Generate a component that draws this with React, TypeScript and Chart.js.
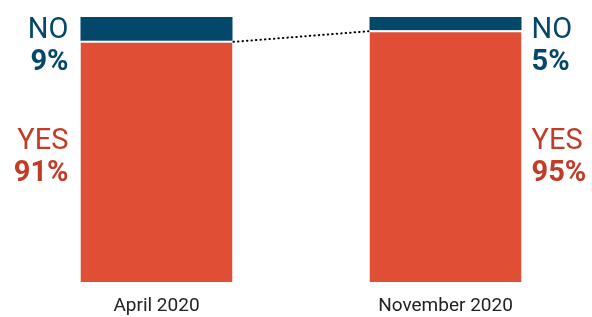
import React, { useEffect, useRef } from "react";
import { Chart, registerables } from "chart.js";

Chart.register(...registerables);

const categories = ["April 2020", "November 2020"];
const yesValues = [91, 95];
const noValues = [9, 5];
const yesLabels = ["YES", "YES"];
const noLabels = ["NO", "NO"];

const NO_COLOR = "#03476a";
const YES_COLOR = "#e04e35";
const YES_TEXT = "#c13b27";
const FONT = "Roboto, sans-serif";

const labelsPlugin = {
  id: "sideLabels",
  afterDatasetsDraw(chart: any) {
    const { ctx, scales } = chart;
    const y = scales.y;
    const metaYes = chart.getDatasetMeta(0);
    const barA = metaYes.data[0];
    const barB = metaYes.data[1];
    const aRight = barA.x + barA.width / 2;
    const bLeft = barB.x - barB.width / 2;
    ctx.save();
    ctx.strokeStyle = "#000";
    ctx.lineWidth = 2;
    ctx.lineCap = "round";
    ctx.setLineDash([0.5, 4]);
    ctx.beginPath();
    ctx.moveTo(aRight + 1, y.getPixelForValue(yesValues[0]) + 1);
    ctx.lineTo(bLeft - 1, y.getPixelForValue(yesValues[1]) + 1);
    ctx.stroke();
    ctx.restore();

    const top = chart.chartArea.top;
    const draw = (i: number, x: number, align: CanvasTextAlign) => {
      ctx.save();
      ctx.textAlign = align;
      ctx.textBaseline = "middle";
      ctx.fillStyle = NO_COLOR;
      ctx.font = `29px ${FONT}`;
      ctx.fillText(noLabels[i], x, top + 14);
      ctx.font = `bold 29px ${FONT}`;
      ctx.fillText(noValues[i] + "%", x, top + 46);
      ctx.fillStyle = YES_TEXT;
      ctx.font = `29px ${FONT}`;
      ctx.fillText(yesLabels[i], x, top + 125);
      ctx.font = `bold 29px ${FONT}`;
      ctx.fillText(yesValues[i] + "%", x, top + 157);
      ctx.restore();
    };
    draw(0, barA.x - barA.width / 2 - 12, "right");
    draw(1, barB.x + barB.width / 2 + 10, "left");
  },
};

export default function App() {
  const ref = useRef<HTMLCanvasElement>(null);
  useEffect(() => {
    const chart = new Chart(ref.current!, {
      type: "bar",
      data: {
        labels: categories,
        datasets: [
          {
            label: "YES",
            data: yesValues,
            backgroundColor: YES_COLOR,
            borderColor: "#ffffff",
            borderWidth: { top: 2, left: 0, right: 0, bottom: 0 },
            borderSkipped: false,
          },
          {
            label: "NO",
            data: noValues,
            backgroundColor: NO_COLOR,
            borderWidth: 0,
          },
        ],
      },
      options: {
        animation: false,
        responsive: true,
        maintainAspectRatio: false,
        layout: { padding: { left: 12, right: 2, top: 17, bottom: 0 } },
        plugins: { legend: { display: false }, tooltip: { enabled: false } },
        datasets: { bar: { barPercentage: 1, categoryPercentage: 0.526 } },
        scales: {
          x: {
            stacked: true,
            grid: { display: false },
            border: { display: false },
            afterFit: (s: any) => {
              s.height = 35;
            },
            ticks: {
              color: "#222",
              padding: 5,
              maxRotation: 0,
              font: { size: 19, family: FONT },
            },
          },
          y: {
            stacked: true,
            display: false,
            min: 0,
            max: 100,
          },
        },
      },
      plugins: [labelsPlugin],
    });
    return () => chart.destroy();
  }, []);
  return (
    <div style={{ position: "fixed", left: 0, top: 0, width: 592, height: 317, background: "#fff" }}>
      <canvas ref={ref} />
    </div>
  );
}
